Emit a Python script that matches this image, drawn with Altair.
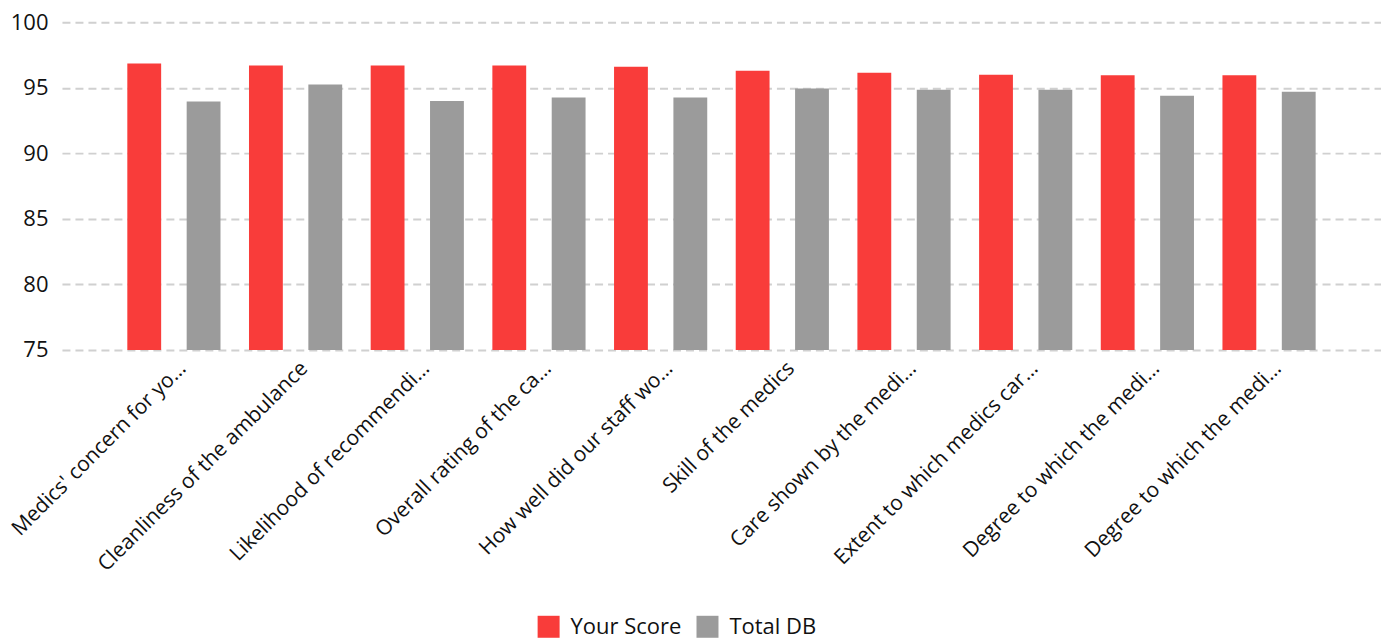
import json
import altair as alt
import pandas as pd

labels = [
    "Medics' concern for yo…",
    "Cleanliness of the ambulance",
    "Likelihood of recommendi…",
    "Overall rating of the ca…",
    "How well did our staff wo…",
    "Skill of the medics",
    "Care shown by the medi…",
    "Extent to which medics car…",
    "Degree to which the medi…",
    "Degree to which the medi…",
]
your_score = [96.85, 96.7, 96.7, 96.7, 96.6, 96.3, 96.15, 96.0, 95.95, 95.95]
total_db = [93.95, 95.25, 94.0, 94.25, 94.25, 94.95, 94.85, 94.85, 94.4, 94.7]
series = ["Your Score", "Total DB"]
colors = ["#F93C3A", "#9B9B9B"]
y_ticks = [75, 80, 85, 90, 95, 100]

rows = []
for i, (a, b) in enumerate(zip(your_score, total_db)):
    rows.append({"cat": i, "series": series[0], "value": a})
    rows.append({"cat": i, "series": series[1], "value": b})
df = pd.DataFrame(rows)

label_expr = json.dumps(labels) + "[datum.value]"
FONT = "Open Sans"

chart = alt.Chart(df).mark_bar().encode(
    x=alt.X(
        "cat:N",
        scale=alt.Scale(paddingInner=0, paddingOuter=0.42),
        axis=alt.Axis(
            title=None,
            labelExpr=label_expr,
            labelAngle=-45,
            labelAlign="right",
            labelBaseline="middle",
            labelPadding=15,
            labelOffset=9,
            domain=False,
            ticks=False,
            labelFontSize=21,
            labelColor="#111111",
            labelFont=FONT,
            labelLimit=400,
        ),
    ),
    xOffset=alt.XOffset(
        "series:N", sort=series, scale=alt.Scale(paddingInner=0.43, paddingOuter=0.24)
    ),
    y=alt.Y(
        "value:Q",
        scale=alt.Scale(domain=[75, 100], zero=False, clamp=True, nice=False),
        axis=alt.Axis(
            title=None,
            values=y_ticks,
            grid=True,
            gridDash=[8, 5],
            gridColor="#d0d0d0",
            gridWidth=2,
            domain=False,
            ticks=False,
            labelFontSize=22,
            labelColor="#111111",
            labelFont=FONT,
            labelPadding=14,
        ),
    ),
    y2=alt.datum(75),
    color=alt.Color(
        "series:N",
        sort=series,
        scale=alt.Scale(domain=series, range=colors),
        legend=alt.Legend(
            orient="none",
            legendX=476,
            legendY=594,
            direction="horizontal",
            title=None,
            symbolType="square",
            symbolSize=484,
            symbolStrokeWidth=0,
            labelFontSize=22,
            labelFont=FONT,
            labelColor="#111111",
            labelOffset=11,
            columnPadding=15,
        ),
    ),
).properties(
    width=1320,
    height=328,
    autosize=alt.AutoSizeParams(type="none"),
    padding={"left": 54, "top": 14, "right": 0, "bottom": 292},
).configure_view(stroke=None)

chart.save("out.html", embed_options={"renderer": "svg", "actions": False})
